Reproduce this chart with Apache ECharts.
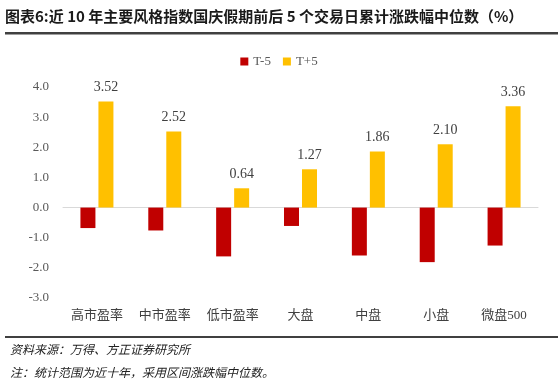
<!DOCTYPE html>
<html><head><meta charset="utf-8">
<script src="https://cdn.jsdelivr.net/npm/echarts@6/dist/echarts.min.js"></script>
<style>html,body{margin:0;padding:0;background:#fff}#c{width:558px;height:386px}</style>
</head><body><div id="c"></div>
<script>
const categories = ['高市盈率','中市盈率','低市盈率','大盘','中盘','小盘','微盘500'];
const tMinus5 = [-0.68, -0.76, -1.62, -0.61, -1.59, -1.81, -1.26];
const tPlus5 = [3.52, 2.52, 0.64, 1.27, 1.86, 2.10, 3.36];
const seriesNames = ['T-5','T+5'];
const titleText = '图表6:近 10 年主要风格指数国庆假期前后 5 个交易日累计涨跌幅中位数（%）';
const sourceText = '资料来源：万得、方正证券研究所';
const noteText = '注：统计范围为近十年，采用区间涨跌幅中位数。';

const serif = '"Liberation Serif","Noto Sans CJK SC",serif';
const chart = echarts.init(document.getElementById('c'));
chart.setOption({
  animation: false,
  backgroundColor: '#fff',
  textStyle: {fontFamily: serif},
  legend: {
    top: 50, left: 'center', itemWidth: 8, itemHeight: 8, itemGap: 12,
    icon: 'rect',
    textStyle: {fontFamily: serif, fontSize: 13, color: '#595959'},
    data: seriesNames
  },
  grid: {left: 63, right: 20, top: 87, bottom: 88, containLabel: false},
  xAxis: {
    type: 'category', data: categories,
    axisLine: {onZero: true, lineStyle: {color: '#d9d9d9'}},
    axisTick: {show: false},
    axisLabel: {interval: 0, color: '#404040', fontSize: 13, fontFamily: serif, margin: 11},
    position: 'bottom'
  },
  yAxis: {
    type: 'value', min: -3, max: 4, interval: 1,
    splitLine: {show: false},
    axisLine: {show: false}, axisTick: {show: false},
    axisLabel: {color: '#595959', fontSize: 13, fontFamily: serif, margin: 14,
      formatter: v => v.toFixed(1)}
  },
  series: [
    {name: seriesNames[0], type: 'bar', data: tMinus5, barWidth: 15, barGap: '20%',
     itemStyle: {color: '#C00000'}},
    {name: seriesNames[1], type: 'bar', data: tPlus5, barWidth: 15, barGap: '20%',
     itemStyle: {color: '#FFC000'},
     label: {show: true, position: 'top', distance: 7, color: '#404040', fontSize: 14,
       fontFamily: serif, formatter: p => p.value.toFixed(2)}}
  ],
  graphic: [
    {type: 'text', left: 5, top: 9, style: {text: titleText, fontSize: 15, fontWeight: 'bold',
      fill: '#1a1a1a', fontFamily: '"Noto Sans CJK SC","Liberation Sans",sans-serif'}},
    {type: 'rect', shape: {x: 5, y: 32, width: 553, height: 2.5}, style: {fill: '#404040'}},
    {type: 'rect', shape: {x: 5, y: 336, width: 553, height: 2}, style: {fill: '#404040'}},
    {type: 'text', left: 10, top: 343, style: {text: sourceText, fontSize: 12, fontStyle: 'italic',
      fill: '#222', fontFamily: '"Noto Sans CJK SC",serif'}},
    {type: 'text', left: 10, top: 366, style: {text: noteText, fontSize: 12, fontStyle: 'italic',
      fill: '#222', fontFamily: '"Noto Sans CJK SC",serif'}}
  ]
});
</script></body></html>
